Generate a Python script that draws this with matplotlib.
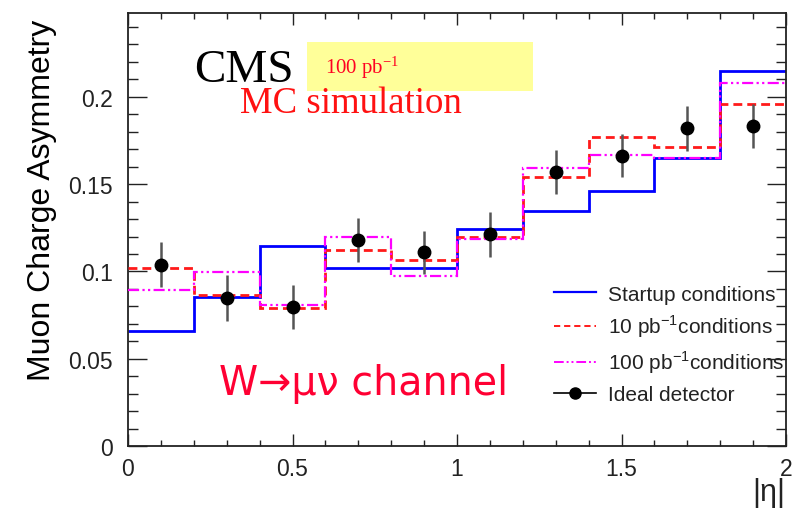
"""Muon charge asymmetry vs |eta| for W -> mu nu, several detector conditions"""
import matplotlib.pyplot as plt
import matplotlib.patches as patches
from matplotlib.lines import Line2D
from matplotlib.ticker import MultipleLocator
import numpy as np

# ============================================================================
# DATA
# ============================================================================
bin_edges = np.array([0.0, 0.2, 0.4, 0.6, 0.8, 1.0, 1.2, 1.4, 1.6, 1.8, 2.0])

startup = [0.066, 0.0853, 0.1145, 0.102, 0.1018, 0.1243, 0.1346, 0.146, 0.165, 0.215]
cond_10pb = [0.1018, 0.0865, 0.0789, 0.1123, 0.1065, 0.120, 0.154, 0.177, 0.171, 0.1957]
cond_100pb = [0.0893, 0.0998, 0.0808, 0.1197, 0.0975, 0.1186, 0.159, 0.1668, 0.165, 0.2077]

ideal_eta = [0.1, 0.3, 0.5, 0.7, 0.9, 1.1, 1.3, 1.5, 1.7, 1.9]
ideal_asym = [0.1038, 0.0848, 0.0794, 0.118, 0.111, 0.1212, 0.157, 0.1663, 0.182, 0.1833]
ideal_err = [0.0128, 0.013, 0.0126, 0.0124, 0.0124, 0.013, 0.0126, 0.0124, 0.0128, 0.0126]

legend_labels = ['Startup conditions',
                 r'10 pb$^{-1}$conditions',
                 r'100 pb$^{-1}$conditions',
                 'Ideal detector']

# ============================================================================
# PLOTTING
# ============================================================================
sans = ['Liberation Sans', 'DejaVu Sans']
serif = ['Liberation Serif', 'DejaVu Serif']
plt.rcParams['font.family'] = sans
plt.rcParams['mathtext.fontset'] = 'custom'
plt.rcParams['mathtext.rm'] = 'Liberation Sans'

fig = plt.figure(figsize=(7.95, 5.10), dpi=100)
ax = fig.add_axes([0.161, 0.1235, 0.8277, 0.849])

blue = '#0000ff'
red = '#ff1a1a'
magenta = '#ff00ff'

# histograms without the drop to zero at the outer edges
ax.stairs(startup, bin_edges, baseline=None, color=blue, linewidth=2.0, zorder=2)
ax.stairs(cond_10pb, bin_edges, baseline=None, color=red, linewidth=2.0,
          linestyle=(0, (3.2, 1.8)), zorder=3)
ax.stairs(cond_100pb, bin_edges, baseline=None, color=magenta, linewidth=1.6,
          linestyle=(0, (5, 1.5, 1, 1.5, 1, 1.5)), zorder=3)

ax.errorbar(ideal_eta, ideal_asym, yerr=ideal_err, fmt='o', color='black',
            markersize=9, ecolor='#555555', elinewidth=1.8, capsize=0, zorder=5)

# --- LEGEND ---
handles = [
    Line2D([], [], color=blue, linewidth=1.6),
    Line2D([], [], color=red, linewidth=1.4, linestyle=(0, (3.2, 2.0))),
    Line2D([], [], color=magenta, linewidth=1.4,
           linestyle=(0, (5, 1.5, 1, 1.5, 1, 1.5))),
    Line2D([], [], color='black', linewidth=1.2, marker='o', markersize=8),
]
leg = ax.legend(handles, legend_labels, loc='upper left',
                bbox_to_anchor=(0.648, 0.373), frameon=False, fontsize=15,
                handlelength=2.0, handletextpad=0.55, labelspacing=0.45,
                borderpad=0.0, borderaxespad=0.0)
for t in leg.get_texts():
    t.set_color('#222222')

# --- LABELS ON THE PLOT ---
ax.text(0.100, 0.842, 'CMS', transform=ax.transAxes, fontsize=34,
        family=serif, color='black', ha='left', va='baseline', zorder=6)

# yellow luminosity box sits on top of the CMS label
lumi_box = patches.Rectangle((0.272, 0.820), 0.3435, 0.113,
                             transform=ax.transAxes, facecolor='#ffff99',
                             edgecolor='none', zorder=7)
ax.add_patch(lumi_box)
ax.text(0.299, 0.876, r'100 pb$^{\mathregular{-1}}$', transform=ax.transAxes,
        fontsize=15, family=serif, color='#ff0022', ha='left', va='center',
        math_fontfamily='stix', zorder=8)

ax.text(0.170, 0.772, 'MC simulation', transform=ax.transAxes, fontsize=26.5,
        family=serif, color='#ff1111', ha='left', va='baseline', zorder=9)

ax.text(0.139, 0.145, 'W→μν channel', transform=ax.transAxes, fontsize=28.5,
        family=['DejaVu Sans'], color='#ff0033', ha='left', va='center')

# ============================================================================
# FORMATTING
# ============================================================================
ax.set_xlim(0, 2)
ax.set_ylim(0, 0.248)
ax.xaxis.set_minor_locator(MultipleLocator(0.1))
ax.yaxis.set_minor_locator(MultipleLocator(0.01))
ax.set_xticks([0, 0.5, 1, 1.5, 2])
ax.set_xticklabels(['0', '0.5', '1', '1.5', '2'])
ax.set_yticks([0, 0.05, 0.1, 0.15, 0.2])
ax.set_yticklabels(['0', '0.05', '0.1', '0.15', '0.2'])

ax.tick_params(axis='both', which='both', direction='in', top=True,
               right=True, width=1.0, colors='#222222', labelsize=16.5)
ax.tick_params(axis='y', which='major', length=14, pad=11)
ax.tick_params(axis='y', which='minor', length=7)
ax.tick_params(axis='x', which='major', length=8.5, pad=8)
ax.tick_params(axis='x', which='minor', length=4.3)
for side in ax.spines.values():
    side.set_linewidth(1.3)
    side.set_color('#222222')

ax.set_ylabel('Muon Charge Asymmetry', fontsize=23, loc='top')
ax.yaxis.set_label_coords(-0.108, 0.986)

fig.text(0.988, 0.004, '|η|', fontsize=22, ha='right', va='bottom',
         color='#222222')

fig.savefig('out.png', dpi=100)
